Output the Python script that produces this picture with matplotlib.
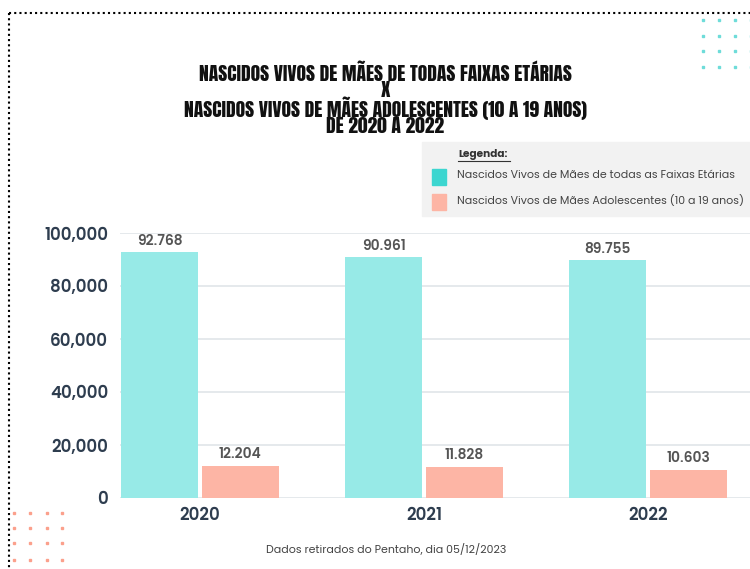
import matplotlib.pyplot as plt
from matplotlib.lines import Line2D
from matplotlib.patches import Rectangle
import numpy as np

years = ['2020', '2021', '2022']
total = [92768, 90961, 89755]
adolescentes = [12204, 11828, 10603]
yticks = [0, 20000, 40000, 60000, 80000, 100000]
serie_labels = ['Nascidos Vivos de Mães de todas as Faixas Etárias',
                'Nascidos Vivos de Mães Adolescentes (10 a 19 anos)']
title_lines = ['NASCIDOS VIVOS DE MÃES DE TODAS FAIXAS ETÁRIAS', 'X',
               'NASCIDOS VIVOS DE MÃES ADOLESCENTES (10 A 19 ANOS)', 'DE 2020 A 2022']

teal = '#97EAE7'
salmon = '#FDB5A5'
dark = '#2E3D4F'
W, H = 750, 569
sans = ['Poppins', 'Open Sans', 'DejaVu Sans']
titlefont = ['Anton', 'Liberation Sans Narrow', 'DejaVu Sans']

fig = plt.figure(figsize=(7.5, 5.69), dpi=100)
ax = fig.add_axes([120 / W, 1 - 498 / H, 630 / W, (498 - 233) / H])

x = np.arange(len(years))
bw = 0.345
b1 = ax.bar(x - 0.18, total, bw, color=teal, zorder=2)
b2 = ax.bar(x + 0.18, adolescentes, bw, color=salmon, zorder=2)

for bars in (b1, b2):
    for r in bars:
        v = int(r.get_height())
        ax.text(r.get_x() + r.get_width() / 2, v + 1300, f'{v:,}'.replace(',', '.'),
                ha='center', va='bottom', fontsize=10, color='#555555',
                fontweight='semibold', family=sans, clip_on=False)

ax.set_xlim(-0.357, 2.455)
ax.set_ylim(0, 100000)
ax.set_yticks(yticks)
ax.set_yticklabels([f'{t:,}' for t in yticks], fontsize=12, color=dark,
                   fontweight='semibold', family=sans)
ax.set_xticks(x)
ax.set_xticklabels(years, fontsize=12, color=dark, fontweight='semibold', family=sans)
ax.tick_params(length=0)
ax.tick_params(axis='y', pad=8.5)
ax.tick_params(axis='x', pad=6.5)
ax.grid(axis='y', color='#E3E7EA', linewidth=1.3, zorder=0)
for s in ax.spines.values():
    s.set_visible(False)

# title, one block so the lines sit tight like the original
fig.text(385 / W, 1 - 99 / H, '\n'.join(title_lines), ha='center', va='center',
         fontsize=14, family=titlefont, color='#111111', linespacing=0.86)

# legend box
fig.patches.append(Rectangle((422 / W, 1 - 216 / H), 328 / W, 74 / H,
                             transform=fig.transFigure, color='#F2F2F2', zorder=0))
fig.text(458 / W, 1 - 155 / H, 'Legenda:', fontsize=7.6, fontweight='bold',
         family=sans, color='#333333', va='center')
fig.add_artist(Line2D([458 / W, 510 / W], [1 - 161 / H, 1 - 161 / H], color='#333333', lw=0.8))
for i, (lab, c) in enumerate(zip(serie_labels, ['#3CD6D0', salmon])):
    yc = 177 + i * 25
    fig.patches.append(Rectangle((432 / W, 1 - (yc + 8) / H), 14 / W, 16 / H,
                                 transform=fig.transFigure, color=c))
    fig.text(457 / W, 1 - (yc - 1) / H, lab, fontsize=7.9, family=sans,
             color='#444444', va='center')

# footnote
fig.text(386 / W, 1 - 550 / H, 'Dados retirados do Pentaho, dia 05/12/2023',
         ha='center', va='center', fontsize=7.9, family=sans, color='#444444')

# dotted border
fig.add_artist(Line2D([9 / W, 1], [1 - 13 / H, 1 - 13 / H], color='black', lw=1.5, ls=(0, (1, 1.5))))
fig.add_artist(Line2D([9 / W, 9 / W], [1 - 13 / H, 0], color='black', lw=1.5, ls=(0, (1, 1.5))))

# decorative dots
for dx in [703, 719, 735, 751]:
    for dy in [20, 36, 51, 67]:
        fig.add_artist(Line2D([dx / W], [1 - dy / H], marker='s', ms=2, color='#6EDCD9', lw=0))
for dx in [14, 30, 47, 62]:
    for dy in [513, 528, 543, 560]:
        fig.add_artist(Line2D([dx / W], [1 - dy / H], marker='s', ms=2, color='#FBA08C', lw=0))

fig.savefig('out.png', dpi=100)
